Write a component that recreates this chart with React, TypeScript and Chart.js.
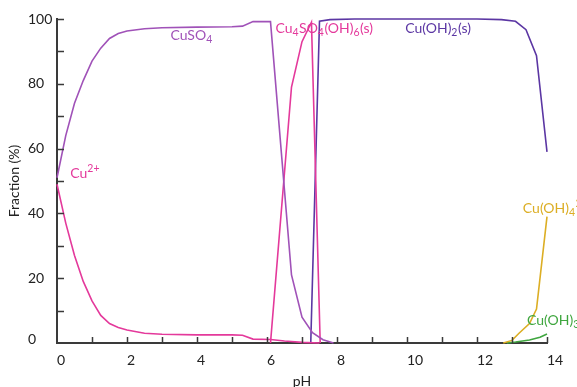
import React, { useEffect, useRef } from "react";
import { Chart, registerables } from "chart.js";

Chart.register(...registerables);

// ---- data ----
const phCu2 = [0, 0.25, 0.5, 0.75, 1, 1.25, 1.5, 1.75, 2, 2.5, 3, 4, 5, 5.3, 5.6, 6.1, 6.5, 7.0, 7.5];
const cu2 = [49, 37, 27, 19, 13, 8.5, 6, 4.8, 4, 3, 2.7, 2.5, 2.5, 2.4, 1.2, 1.1, 0.6, 0.2, 0];

const phCuSO4 = [0, 0.25, 0.5, 0.75, 1, 1.25, 1.5, 1.75, 2, 2.5, 3, 4, 5, 5.3, 5.6, 6.1, 6.7, 7.0, 7.3, 7.6, 7.9];
const cuSO4 = [51, 64, 74, 81, 87, 91, 94, 95.5, 96.3, 97, 97.3, 97.5, 97.6, 97.8, 99.2, 99.2, 21, 8, 3.2, 1, 0];

const phBas = [6.1, 6.7, 7.0, 7.27, 7.52];
const basic = [0, 79, 93, 99, 0];

const phHyd = [7.25, 7.5, 7.8, 8.5, 10, 12, 12.7, 13.1, 13.4, 13.7, 14];
const hydroxide = [0, 99.3, 99.8, 100, 100, 100, 99.8, 99.3, 96.7, 88.7, 59];

const phTetra = [12.75, 13.0, 13.2, 13.5, 13.7, 14];
const tetra = [0, 0.8, 3, 6, 10.5, 39];

const phTri = [12.85, 13.1, 13.5, 13.8, 14];
const tri = [0, 0.3, 0.9, 1.8, 2.8];

const xTickLabels = [0, 2, 4, 6, 8, 10, 12, 14];
const yTickLabels = [0, 20, 40, 60, 80, 100];

const PINK = "#e4399b";
const PURPLE = "#a052b8";
const DARK = "#5b36a3";
const GOLD = "#dcae24";
const GREEN = "#3fa63f";
const AXIS = "#3a3a3a";
const TEXT = "#222";
const FONT = "Lato, 'Open Sans', sans-serif";

// labels: [text parts], anchor pH, anchor value, color
type Part = { t: string; k?: "sub" | "sup" };
const seriesLabels: { parts: Part[]; x: number; y: number; color: string }[] = [
  { parts: [{ t: "CuSO" }, { t: "4", k: "sub" }], x: 3.24, y: 93.6, color: PURPLE },
  {
    parts: [{ t: "Cu" }, { t: "4", k: "sub" }, { t: "SO" }, { t: "4", k: "sub" }, { t: "(OH)" }, { t: "6", k: "sub" }, { t: "(s)" }],
    x: 6.24, y: 95.6, color: PINK,
  },
  { parts: [{ t: "Cu(OH)" }, { t: "2", k: "sub" }, { t: "(s)" }], x: 9.95, y: 95.6, color: DARK },
  { parts: [{ t: "Cu" }, { t: "2+", k: "sup" }], x: 0.38, y: 50.9, color: PINK },
  { parts: [{ t: "Cu(OH)" }, { t: "4", k: "sub" }, { t: "2−", k: "sup" }], x: 13.31, y: 40.2, color: GOLD },
  { parts: [{ t: "Cu(OH)" }, { t: "3", k: "sub" }, { t: "−", k: "sup" }], x: 13.43, y: 5.7, color: GREEN },
];

const toPts = (xs: number[], ys: number[]) => xs.map((x, i) => ({ x, y: ys[i] }));

const innerTicks = {
  id: "innerTicks",
  afterDraw(chart: any) {
    const ctx = chart.ctx;
    const xs = chart.scales.x;
    const ys = chart.scales.y;
    const area = chart.chartArea;
    ctx.save();
    ctx.strokeStyle = AXIS;
    ctx.lineWidth = 1.5;
    ctx.beginPath();
    xs.ticks.forEach((t: any) => {
      if (t.value === 0) return;
      const px = Math.round(xs.getPixelForValue(t.value)) + 0.5;
      ctx.moveTo(px, area.bottom);
      ctx.lineTo(px, area.bottom - 6);
    });
    ys.ticks.forEach((t: any) => {
      if (t.value === 0) return;
      const py = Math.round(ys.getPixelForValue(t.value)) + 0.5;
      ctx.moveTo(area.left, py);
      ctx.lineTo(area.left + 7, py);
    });
    ctx.stroke();

    // y tick labels, left aligned
    ctx.fillStyle = TEXT;
    ctx.font = `14px ${FONT}`;
    ctx.textAlign = "left";
    ctx.textBaseline = "middle";
    yTickLabels.forEach((v) => {
      const py = ys.getPixelForValue(v) - (v === 0 ? 4 : 0);
      ctx.fillText(String(v), area.left - 29, py);
    });

    // series labels
    ctx.textBaseline = "alphabetic";
    ctx.textAlign = "left";
    seriesLabels.forEach((lab) => {
      let px = xs.getPixelForValue(lab.x);
      const py = ys.getPixelForValue(lab.y);
      ctx.fillStyle = lab.color;
      lab.parts.forEach((p) => {
        if (p.k) {
          ctx.font = `10.5px ${FONT}`;
          const dy = p.k === "sub" ? 3 : -6;
          ctx.fillText(p.t, px, py + dy);
        } else {
          ctx.font = `14px ${FONT}`;
          ctx.fillText(p.t, px, py);
        }
        px += ctx.measureText(p.t).width + (p.k ? 0.5 : 0);
      });
    });
    ctx.restore();
  },
};

export default function App() {
  const ref = useRef<HTMLCanvasElement | null>(null);
  useEffect(() => {
    document.body.style.margin = "0";
    if (!ref.current) return;
    const ds = (label: string, xs: number[], ys: number[], color: string) => ({
      label,
      data: toPts(xs, ys),
      borderColor: color,
      backgroundColor: color,
      borderWidth: 1.6,
      pointRadius: 0,
      tension: 0,
      clip: false as any,
    });
    const chart = new Chart(ref.current, {
      type: "line",
      data: {
        datasets: [
          ds("Cu2+", phCu2, cu2, PINK),
          ds("CuSO4", phCuSO4, cuSO4, PURPLE),
          ds("Cu4SO4(OH)6(s)", phBas, basic, PINK),
          ds("Cu(OH)2(s)", phHyd, hydroxide, DARK),
          ds("Cu(OH)4 2-", phTetra, tetra, GOLD),
          ds("Cu(OH)3-", phTri, tri, GREEN),
        ],
      },
      options: {
        animation: false,
        responsive: false,
        maintainAspectRatio: false,
        layout: { padding: { left: 0, top: 19, right: 30, bottom: 0 } },
        plugins: { legend: { display: false }, tooltip: { enabled: false } },
        scales: {
          x: {
            type: "linear",
            min: 0,
            max: 14,
            grid: { display: false, drawTicks: false },
            border: { display: true, color: AXIS, width: 2 },
            ticks: {
              stepSize: 1,
              padding: 9,
              align: "start",
              color: TEXT,
              font: { family: FONT, size: 14 },
              autoSkip: false,
              maxRotation: 0,
              callback: (v: any) => (xTickLabels.includes(Number(v)) ? String(v) : ""),
            },
            title: {
              display: true,
              text: "pH",
              color: TEXT,
              font: { family: FONT, size: 14 },
              padding: { top: 0, bottom: -3 },
            },
            afterFit: (s: any) => {
              s.height = 44;
            },
          },
          y: {
            min: 0,
            max: 100,
            grid: { display: false, drawTicks: false },
            border: { display: true, color: AXIS, width: 2 },
            ticks: {
              stepSize: 10,
              display: false,
            },
            title: {
              display: true,
              text: "Fraction (%)",
              color: TEXT,
              font: { family: FONT, size: 14 },
              padding: { top: 6, bottom: 0 },
            },
            afterFit: (s: any) => {
              s.width = 57;
            },
          },
        },
      },
      plugins: [innerTicks],
    });
    return () => chart.destroy();
  }, []);
  return (
    <div style={{ width: 577, height: 387 }}>
      <canvas ref={ref} width={577} height={387} style={{ display: "block", width: 577, height: 387 }} />
    </div>
  );
}
